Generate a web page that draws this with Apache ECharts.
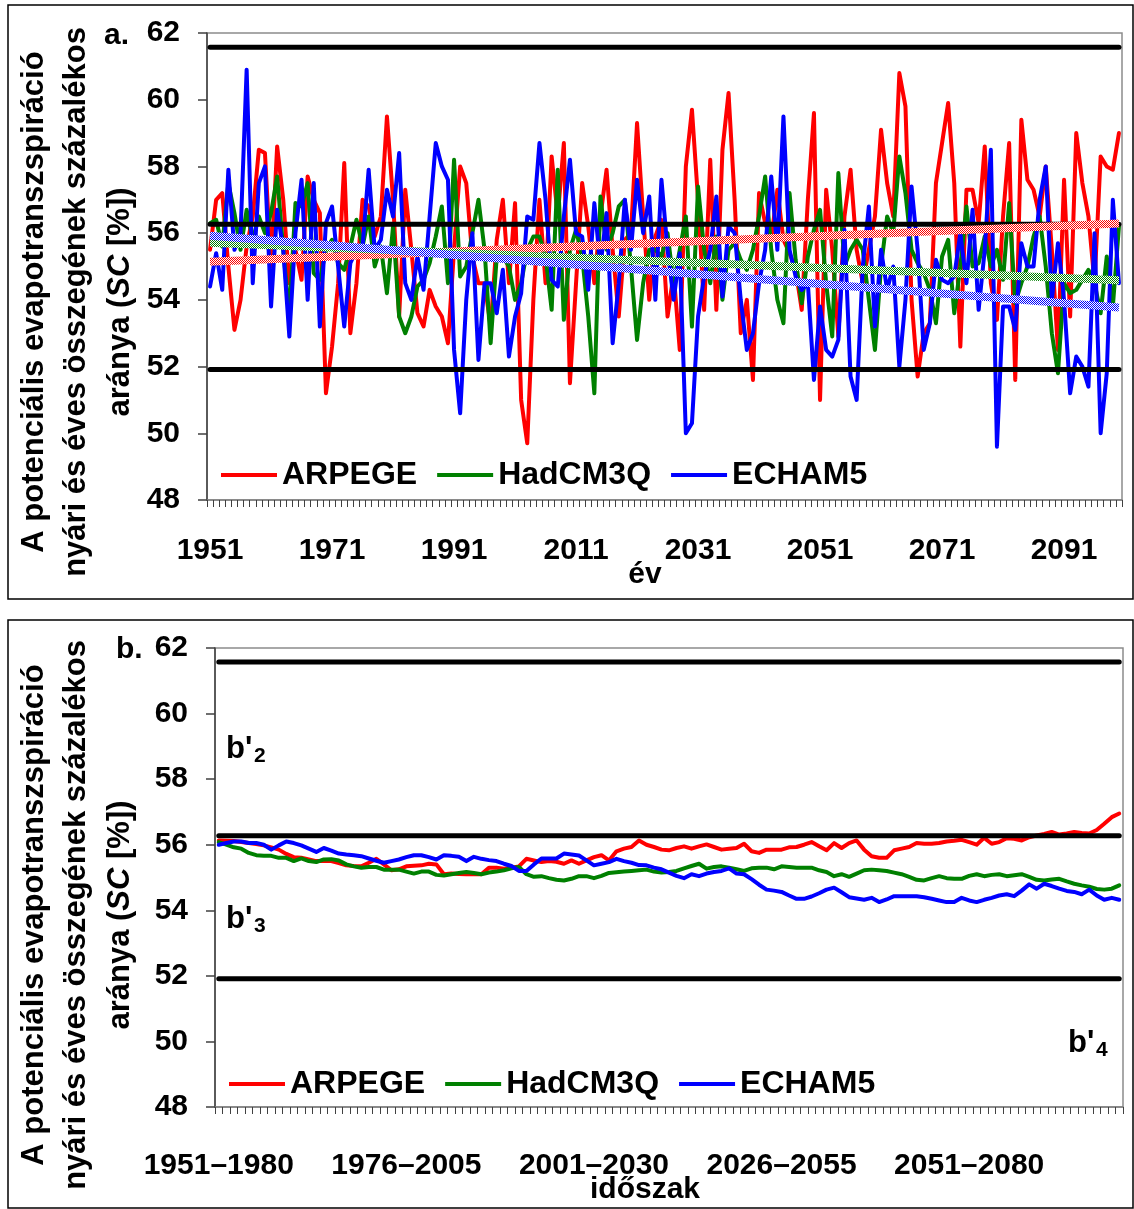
<!DOCTYPE html>
<html>
<head>
<meta charset="utf-8">
<script src="https://cdn.jsdelivr.net/npm/echarts@6/dist/echarts.min.js"></script>
<style>
  html, body { margin: 0; padding: 0; background: #fff; }
  #chart { width: 1134px; height: 1209px; }
</style>
</head>
<body>
<div id="chart"></div>
<script>
// ---- data -----------------------------------------------------------
const FIRST_YEAR = 1951;
const LAST_YEAR = 2100;
const WINDOW = 30;

// annual summer / annual PET ratio (SC, %)
const arpegeAnnual = [
  55.5, 57.0, 57.2, 55.0, 53.1, 54.0, 55.6, 56.5, 58.5, 58.4, 55.0, 58.6, 57.0, 54.5, 55.5, 54.6, 57.7, 57.0, 56.6, 51.2,
  52.6, 54.5, 58.1, 53.0, 54.5, 57.0, 56.8, 55.9, 56.5, 59.5, 57.0, 53.5, 57.3, 55.5, 53.6, 53.2, 54.3, 53.8, 53.5, 52.7,
  55.5, 58.0, 57.5, 55.3, 54.5, 54.5, 53.2, 55.8, 57.0, 54.5, 56.9, 51.0, 49.7, 54.0, 57.0, 54.5, 58.3, 56.5, 58.7, 51.5,
  54.5, 57.5, 56.2, 54.5, 56.5, 57.9, 55.5, 53.5, 55.8, 56.0, 59.3, 56.5, 54.0, 55.9, 56.4, 53.5, 54.8, 52.5, 58.0, 59.7,
  57.0, 53.7, 58.2, 53.7, 58.5, 60.2, 57.0, 53.0, 54.0, 51.6, 57.2, 56.3, 55.8, 57.3, 55.8, 55.4, 54.9, 53.7, 57.0, 59.6,
  51.0, 57.3, 55.5, 52.9, 56.5, 57.9, 55.5, 54.5, 55.5, 56.5, 59.1, 57.5, 56.5, 60.8, 59.8, 54.0, 51.7, 53.0, 53.3, 57.5,
  58.7, 59.9, 57.5, 52.6, 57.3, 57.3, 56.3, 58.6, 54.5, 53.4, 56.5, 58.7, 51.6, 59.4, 57.6, 57.3, 56.5, 58.0, 55.5, 52.5,
  57.6, 53.5, 59.0, 57.5, 56.5, 54.5, 58.3, 58.0, 57.9, 59.0
];
const hadcm3qAnnual = [
  56.3, 56.4, 55.6, 57.5, 56.6, 55.5, 56.7, 55.8, 56.5, 56.0, 56.6, 57.7, 55.5, 53.5, 56.9, 56.8, 57.5, 54.8, 54.6, 55.5,
  55.8, 55.1, 54.9, 55.6, 56.4, 55.6, 56.5, 55.0, 55.6, 54.2, 56.2, 53.5, 53.0, 53.5, 54.4, 54.6, 55.1, 55.9, 56.8, 54.5,
  58.2, 54.7, 55.0, 56.0, 57.0, 55.5, 52.7, 55.3, 55.3, 55.0, 54.0, 54.5, 55.5, 55.9, 55.9, 55.3, 53.7, 57.9, 53.4, 55.5,
  56.1, 55.3, 53.5, 51.2, 57.1, 55.5, 56.0, 56.8, 57.0, 55.0, 52.8, 54.5, 55.5, 55.5, 55.3, 56.0, 54.5, 55.5, 56.5, 53.2,
  57.4, 55.5, 54.5, 55.9, 54.0, 55.5, 55.7, 55.2, 54.9, 55.5, 56.5, 57.7, 55.5, 54.0, 53.3, 57.2, 55.2, 53.9, 55.3, 56.1,
  56.7, 54.5, 52.9, 57.8, 55.0, 55.5, 55.8, 55.5, 54.0, 52.5, 55.0, 56.5, 56.0, 58.3, 57.2, 55.5, 55.1, 54.8, 54.3, 53.3,
  55.3, 55.8, 53.6, 55.0, 56.8, 55.0, 55.1, 55.9, 55.0, 55.5, 54.6, 56.9, 53.9, 54.5, 55.0, 55.9, 56.5, 55.0, 53.0, 51.8,
  54.5, 54.2, 54.3, 54.6, 54.9, 54.5, 53.6, 55.3, 53.8, 56.2
];
const echam5Annual = [
  54.4, 55.4, 54.3, 57.9, 55.5, 56.0, 60.9, 54.5, 57.5, 58.0, 53.8, 56.7, 55.5, 52.9, 56.0, 57.6, 54.0, 57.5, 53.2, 56.3,
  56.8, 55.0, 53.2, 55.1, 55.5, 55.6, 57.9, 55.5, 55.8, 57.3, 56.5, 58.4, 54.5, 54.0, 55.3, 54.3, 56.5, 58.7, 58.0, 57.6,
  52.5, 50.6, 54.0, 56.0, 52.2, 54.5, 54.5, 53.6, 54.9, 52.3, 53.5, 54.2, 56.5, 56.4, 58.7, 57.0, 54.6, 54.4, 56.5, 58.2,
  56.0, 55.9, 54.3, 56.9, 55.0, 56.6, 52.7, 54.5, 57.0, 55.5, 57.6, 56.0, 57.1, 54.0, 57.6, 55.5, 54.0, 55.4, 50.0, 50.3,
  53.5, 54.7, 55.5, 57.1, 54.1, 56.2, 56.0, 54.0, 52.5, 53.0, 54.5, 55.5, 57.7, 55.5, 59.5, 55.5, 54.7, 54.3, 54.5, 51.6,
  53.8, 52.5, 52.3, 52.8, 56.1, 51.7, 51.0, 55.0, 56.8, 53.2, 55.5, 54.3, 55.0, 52.0, 54.0, 57.4, 55.5, 52.5, 53.3, 55.2,
  54.6, 54.5, 54.7, 56.0, 54.5, 56.7, 53.7, 55.5, 58.5, 49.6, 53.8, 53.8, 53.1, 55.7, 55.0, 55.0, 57.0, 58.0, 54.0, 55.7,
  54.0, 51.2, 52.3, 52.0, 51.4, 56.0, 50.0, 51.8, 57.0, 54.5
];

// linear trends of the annual series: [value in 1951, value in 2100]
const arpegeTrend = [55.14, 56.29];
const hadcm3qTrend = [55.71, 54.59];
const echam5Trend = [55.92, 53.77];

// 30-year moving averages (1951–1980 ... 2071–2100)
const arpege30 = [
  56.13, 56.12, 56.11, 56.08, 56.05, 56.02, 55.98, 55.92, 55.85, 55.72, 55.62, 55.60, 55.55, 55.50, 55.50, 55.50, 55.44, 55.37, 55.35, 55.34,
  55.45, 55.57, 55.40, 55.22, 55.25, 55.34, 55.36, 55.37, 55.42, 55.40, 55.10, 55.12, 55.11, 55.10, 55.10, 55.10, 55.30, 55.30, 55.27, 55.30,
  55.34, 55.57, 55.52, 55.47, 55.50, 55.48, 55.42, 55.52, 55.42, 55.52, 55.62, 55.68, 55.52, 55.80, 55.88, 55.93, 56.13, 56.00, 55.93, 55.85,
  55.83, 55.90, 55.95, 55.88, 55.95, 56.01, 55.93, 55.85, 55.88, 55.90, 56.03, 55.80, 55.75, 55.85, 55.85, 55.85, 55.92, 55.93, 56.00, 56.08,
  55.95, 55.83, 56.05, 55.90, 56.05, 56.13, 55.85, 55.65, 55.60, 55.60, 55.83, 55.88, 55.93, 56.05, 56.03, 56.03, 56.05, 56.10, 56.12, 56.15,
  56.08, 56.00, 56.21, 56.03, 56.08, 56.20, 56.18, 56.13, 56.23, 56.28, 56.33, 56.39, 56.31, 56.34, 56.39, 56.36, 56.34, 56.45, 56.64, 56.84,
  56.95
];
const hadcm3q30 = [
  56.08, 56.00, 55.92, 55.88, 55.75, 55.68, 55.66, 55.66, 55.60, 55.60, 55.50, 55.58, 55.50, 55.47, 55.55, 55.56, 55.52, 55.40, 55.34, 55.30,
  55.32, 55.32, 55.24, 55.24, 55.24, 55.18, 55.12, 55.18, 55.18, 55.08, 55.06, 55.10, 55.14, 55.17, 55.14, 55.10, 55.15, 55.18, 55.22, 55.28,
  55.32, 55.10, 55.02, 55.04, 54.98, 54.93, 54.91, 54.96, 55.04, 55.04, 54.98, 55.05, 55.14, 55.16, 55.18, 55.20, 55.22, 55.24, 55.18, 55.15,
  55.17, 55.20, 55.28, 55.35, 55.42, 55.27, 55.32, 55.34, 55.30, 55.25, 55.20, 55.28, 55.30, 55.30, 55.25, 55.34, 55.32, 55.30, 55.30, 55.30,
  55.22, 55.17, 55.04, 55.10, 55.02, 55.12, 55.22, 55.24, 55.22, 55.20, 55.15, 55.10, 55.02, 54.93, 54.91, 54.98, 55.04, 54.98, 54.96, 54.96,
  55.05, 55.10, 55.04, 55.08, 55.10, 55.04, 55.07, 55.10, 55.02, 54.93, 54.91, 54.94, 54.96, 54.88, 54.81, 54.76, 54.72, 54.65, 54.63, 54.66,
  54.76
];
const echam530 = [
  56.00, 56.05, 56.10, 56.10, 56.05, 56.05, 56.00, 55.85, 55.98, 56.10, 56.05, 55.98, 55.88, 55.78, 55.90, 55.82, 55.73, 55.70, 55.68, 55.65,
  55.58, 55.51, 55.45, 55.50, 55.55, 55.62, 55.68, 55.68, 55.62, 55.55, 55.68, 55.66, 55.63, 55.50, 55.63, 55.57, 55.53, 55.50, 55.42, 55.35,
  55.20, 55.20, 55.40, 55.58, 55.58, 55.58, 55.73, 55.70, 55.67, 55.52, 55.37, 55.42, 55.47, 55.57, 55.50, 55.45, 55.38, 55.37, 55.30, 55.25,
  55.15, 55.05, 54.98, 55.10, 55.04, 55.12, 55.17, 55.20, 55.28, 55.12, 55.10, 54.95, 54.78, 54.63, 54.60, 54.56, 54.45, 54.35, 54.35, 54.42,
  54.52, 54.63, 54.69, 54.55, 54.40, 54.36, 54.32, 54.38, 54.25, 54.33, 54.43, 54.43, 54.43, 54.43, 54.40, 54.35, 54.30, 54.25, 54.25, 54.38,
  54.30, 54.25, 54.32, 54.38, 54.45, 54.49, 54.43, 54.60, 54.79, 54.66, 54.81, 54.74, 54.66, 54.59, 54.56, 54.49, 54.63, 54.45, 54.32, 54.38,
  54.32
];

// category boundaries b'2 / b'3 / b'4
const thresholds = [61.57, 56.27, 51.91];

// axis settings
const yMin = 48, yMax = 62, yStep = 2;
const yearLabelStep = 20;
const periodLabelStep = 25;

// categories
const years = [];
for (let y = FIRST_YEAR; y <= LAST_YEAR; y++) years.push(String(y));
const periods = [];
for (let y = FIRST_YEAR; y + WINDOW - 1 <= LAST_YEAR; y++) periods.push(y + '\u2013' + (y + WINDOW - 1));

// ---- style ----------------------------------------------------------
const FONT = '"Liberation Sans", Arial, Helvetica, sans-serif';
const RED = '#ff0000', GREEN = '#008000', BLUE = '#0000ff';

// fine checker fill used for the trend bands
function hatch(color) {
  const c = document.createElement('canvas');
  c.width = 2; c.height = 2;
  const g = c.getContext('2d');
  g.fillStyle = '#ffffff';
  g.fillRect(0, 0, 2, 2);
  g.fillStyle = color;
  g.fillRect(0, 0, 1, 1);
  g.fillRect(1, 1, 1, 1);
  return { image: c, repeat: 'repeat' };
}

const chart = echarts.init(document.getElementById('chart'), null, { renderer: 'canvas' });

function modelSeries(name, data, color, idx) {
  return {
    name: name, type: 'line', xAxisIndex: idx, yAxisIndex: idx, data: data,
    symbol: 'none', smooth: false, animation: false,
    lineStyle: { color: color, width: 4, join: 'round', cap: 'round' }, itemStyle: { color: color }
  };
}
function levelSeries(value, idx, lastIndex) {
  return {
    name: 'level ' + value, type: 'line', xAxisIndex: idx, yAxisIndex: idx,
    data: [[0, value], [lastIndex, value]], symbol: 'none', animation: false,
    lineStyle: { color: '#000', width: 5, cap: 'round' }, silent: true
  };
}
function trendSeries(name, ends, color) {
  return {
    name: name, type: 'line', xAxisIndex: 0, yAxisIndex: 0,
    data: [[0, ends[0]], [years.length - 1, ends[1]]], symbol: 'none', animation: false,
    lineStyle: { color: hatch(color), width: 8 }, silent: true
  };
}

function yAxisCfg(idx) {
  return {
    gridIndex: idx, type: 'value', min: yMin, max: yMax, interval: yStep,
    splitLine: { show: false },
    axisLine: { show: true, lineStyle: { color: '#404040', width: 1.5 } },
    axisTick: { show: true, inside: false, length: 9, lineStyle: { color: '#404040', width: 1.5 } },
    axisLabel: { margin: 27, color: '#000', fontFamily: FONT, fontWeight: 'bold', fontSize: 30 }
  };
}
function xAxisCfg(idx, cats, step, margin) {
  return {
    gridIndex: idx, type: 'category', data: cats, boundaryGap: true,
    axisLine: { show: true, onZero: false, lineStyle: { color: '#808080', width: 1.5 } },
    axisTick: { show: true, interval: 0, length: 7, lineStyle: { color: '#404040', width: 1 } },
    axisLabel: { interval: step - 1, margin: margin, color: '#000', fontFamily: FONT, fontWeight: 'bold', fontSize: 30 },
    splitLine: { show: false }
  };
}
function legendCfg(left, top) {
  return {
    data: ['ARPEGE', 'HadCM3Q', 'ECHAM5'], left: left, top: top, orient: 'horizontal',
    icon: 'rect', itemWidth: 56, itemHeight: 4, itemGap: 20, padding: 0,
    textStyle: { color: '#000', fontFamily: FONT, fontWeight: 'bold', fontSize: 32 },
    selectedMode: false
  };
}

const titleLines = ['A potenciális evapotranszspiráció', 'nyári és éves összegének százalékos'];
function titleGraphics(cy) {
  const xs = [34, 76, 120];
  const out = [];
  titleLines.forEach(function (t, i) {
    out.push({
      type: 'text', x: xs[i], y: cy, rotation: Math.PI / 2, silent: true,
      style: { text: t, font: 'bold 31px ' + FONT, fill: '#000', align: 'center', verticalAlign: 'middle' }
    });
  });
  out.push({
    type: 'text', x: xs[2], y: cy, rotation: Math.PI / 2, silent: true,
    style: {
      text: 'aránya ({it|SC} [%])', font: 'bold 31px ' + FONT, fill: '#000', align: 'center', verticalAlign: 'middle',
      rich: { it: { font: 'italic bold 31px ' + FONT, fill: '#000' } }
    }
  });
  return out;
}
function txt(x, y, s, size, align, va) {
  return {
    type: 'text', x: x, y: y, silent: true,
    style: { text: s, font: 'bold ' + size + 'px ' + FONT, fill: '#000', align: align || 'left', verticalAlign: va || 'middle' }
  };
}
// region name b' with its index set as a subscript; y is the bottom of the text box
function regionLabel(x, y, sub) {
  return [txt(x, y, "b'", 31, 'left', 'bottom'), txt(x + 28, y + 2, sub, 21, 'left', 'bottom')];
}

const graphics = [
  { type: 'rect', shape: { x: 8, y: 5, width: 1125, height: 594 }, style: { fill: null, stroke: '#000', lineWidth: 1.5 }, silent: true, z: -1 },
  { type: 'rect', shape: { x: 8, y: 620, width: 1125, height: 588 }, style: { fill: null, stroke: '#000', lineWidth: 1.5 }, silent: true, z: -1 }
].concat(
  titleGraphics(302),
  titleGraphics(915),
  [txt(104, 36, 'a.', 30), txt(116, 650, 'b.', 30), txt(645, 575, 'év', 30, 'center'), txt(645, 1190, 'időszak', 30, 'center')],
  regionLabel(226, 765, '2'),
  regionLabel(226, 935, '3'),
  regionLabel(1068, 1059, '4')
);

const option = {
  backgroundColor: '#fff',
  animation: false,
  grid: [
    { left: 207, top: 33, width: 915, height: 467, show: true, borderColor: '#8c8c8c', borderWidth: 1.5, backgroundColor: 'transparent' },
    { left: 215, top: 648, width: 908, height: 459, show: true, borderColor: '#8c8c8c', borderWidth: 1.5, backgroundColor: 'transparent' }
  ],
  xAxis: [xAxisCfg(0, years, yearLabelStep, 36), xAxisCfg(1, periods, periodLabelStep, 44)],
  yAxis: [yAxisCfg(0), yAxisCfg(1)],
  legend: [legendCfg(221, 459), legendCfg(229, 1068)],
  series: [
    modelSeries('ARPEGE', arpegeAnnual, RED, 0),
    modelSeries('HadCM3Q', hadcm3qAnnual, GREEN, 0),
    modelSeries('ECHAM5', echam5Annual, BLUE, 0)
  ].concat(
    thresholds.map(function (v) { return levelSeries(v, 0, years.length - 1); }),
    [trendSeries('trend ARPEGE', arpegeTrend, RED),
     trendSeries('trend HadCM3Q', hadcm3qTrend, GREEN),
     trendSeries('trend ECHAM5', echam5Trend, BLUE)],
    [modelSeries('ARPEGE', arpege30, RED, 1),
     modelSeries('HadCM3Q', hadcm3q30, GREEN, 1),
     modelSeries('ECHAM5', echam530, BLUE, 1)],
    thresholds.map(function (v) { return levelSeries(v, 1, periods.length - 1); })
  ),
  graphic: graphics
};

chart.setOption(option);
</script>
</body>
</html>
